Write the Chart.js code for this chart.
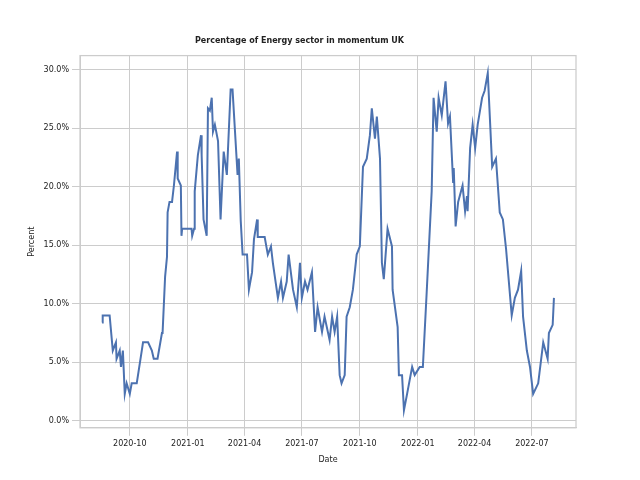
<!DOCTYPE html>
<html>
<head>
<meta charset="utf-8">
<script src="https://cdn.jsdelivr.net/npm/chart.js@4"></script>
<style>
  html, body { margin: 0; padding: 0; background: #fff; }
  #wrap { width: 640px; height: 480px; }
</style>
</head>
<body>
<div id="wrap"><canvas id="c" width="640" height="480"></canvas></div>
<script>
// days since 2020-10-01
const days = [-44,-43,-32,-27,-22,-21,-16,-14,-11,-8,-5,0,3,11,13,19,21,29,35,38,44,51,52,56,59,60,63,67,70,75,76,81,82,83,98,99,102,103,108,113,114,117,122,124,127,130,132,135,140,144,149,154,160,163,171,173,176,179,186,189,194,197,202,203,214,219,224,227,235,240,243,249,252,259,265,270,273,278,282,289,294,298,305,309,317,321,325,329,333,336,341,344,349,354,360,365,370,376,381,384,389,392,397,400,403,409,416,417,425,427,432,435,440,448,452,460,465,471,479,482,487,490,495,501,505,508,513,514,517,521,528,532,535,536,540,544,548,552,559,563,568,575,581,587,592,597,600,606,611,616,621,624,630,635,640,648,656,663,665,671,673];
const percent = [8.4,9.0,9.0,6.0,6.7,5.3,6.0,4.6,6.0,2.3,3.2,2.3,3.2,3.2,3.9,6.0,6.7,6.7,6.0,5.3,5.3,7.5,7.5,12.3,14.0,17.8,18.7,18.7,20.1,23.0,20.7,20.1,15.8,16.4,16.4,15.8,16.4,19.6,22.7,24.4,22.7,17.2,15.8,26.7,26.5,27.6,24.7,25.3,23.9,17.2,23.0,21.0,28.3,28.3,21.0,22.4,17.1,14.2,14.2,11.2,12.7,15.5,17.2,15.7,15.7,14.2,14.9,13.5,10.5,11.9,10.5,11.9,14.2,11.2,9.7,13.5,10.5,11.9,11.2,12.7,7.6,9.7,7.6,8.9,6.9,8.9,7.6,8.9,3.9,3.2,3.9,8.9,9.7,11.2,14.2,14.9,21.7,22.4,24.4,26.7,24.1,26.0,22.4,13.5,12.1,16.4,14.9,11.2,8.0,3.9,3.9,0.9,2.3,4.6,3.9,4.6,4.6,10.9,19.6,27.6,24.7,27.6,26.1,29.0,25.4,26.0,20.4,21.6,16.6,18.7,20.1,17.9,19.2,17.9,23.3,25.3,23.3,25.3,27.6,28.2,29.7,21.7,22.4,17.8,17.2,14.7,12.8,9.0,10.5,11.2,12.8,8.9,6.0,4.6,2.3,3.2,6.7,5.3,7.5,8.2,10.5];
const tickDays = [0, 92, 182, 273, 365, 457, 547, 638];
const tickLabels = ['2020-10','2021-01','2021-04','2021-07','2021-10','2022-01','2022-04','2022-07'];

const points = days.map((d, i) => ({ x: d, y: percent[i] }));
const grid = { color: '#cccccc', lineWidth: 1 };
const tickFont = { family: 'DejaVu Sans', size: 8 };

// box round the plot area
const frame = {
  id: 'frame',
  afterDraw(chart) {
    const { ctx, chartArea: a } = chart;
    ctx.save();
    ctx.strokeStyle = '#cccccc';
    ctx.lineWidth = 1.25;
    ctx.strokeRect(a.left, a.top, a.right - a.left, a.bottom - a.top);
    ctx.restore();
  }
};

new Chart(document.getElementById('c'), {
  type: 'line',
  data: { datasets: [{ data: points, borderColor: '#4c72b0', borderWidth: 2, pointRadius: 0, tension: 0 }] },
  options: {
    responsive: false,
    animation: false,
    layout: { padding: { left: 23, right: 64, top: 36, bottom: 11 } },
    plugins: {
      legend: { display: false },
      title: {
        display: true, text: 'Percentage of Energy sector in momentum UK',
        color: '#222', font: { family: 'DejaVu Sans', size: 8, weight: 'bold' }, padding: { bottom: 10 }
      }
    },
    scales: {
      x: {
        type: 'linear', min: -79, max: 708,
        afterBuildTicks: ax => { ax.ticks = tickDays.map(v => ({ value: v })); },
        ticks: { callback: v => tickLabels[tickDays.indexOf(v)], color: '#222', font: tickFont, maxRotation: 0 },
        grid: grid, border: { color: '#cccccc' },
        title: { display: true, text: 'Date', color: '#222', font: tickFont }
      },
      y: {
        min: -0.6, max: 31.2,
        afterBuildTicks: ax => { ax.ticks = [0,5,10,15,20,25,30].map(v => ({ value: v })); },
        ticks: { callback: v => v.toFixed(1) + '%', color: '#222', font: tickFont },
        grid: grid, border: { color: '#cccccc' },
        title: { display: true, text: 'Percent', color: '#222', font: tickFont }
      }
    }
  },
  plugins: [frame]
});
</script>
</body>
</html>
